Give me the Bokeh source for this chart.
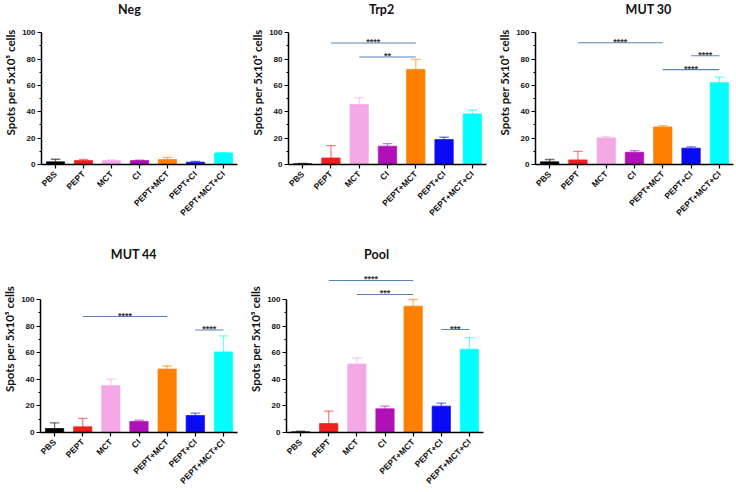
import math
from bokeh.plotting import figure
from bokeh.layouts import column, row
from bokeh.models import ColumnDataSource, Range1d, FactorRange, FixedTicker
from bokeh.transform import dodge
from bokeh.embed import file_html
from bokeh.resources import INLINE
from bokeh.core.properties import value

categories = ["PBS", "PEPT", "MCT", "CI", "PEPT+MCT", "PEPT+CI", "PEPT+MCT+CI"]
colors = ["#000000", "#f01e1e", "#f5a8e6", "#b010b8", "#ff8000", "#0a0af5", "#00ffff"]

neg_mean = [2.0, 3.0, 3.0, 3.0, 3.8, 1.8, 8.8]
neg_err = [4.0, 3.8, 3.5, 3.3, 5.3, 2.3, 9.1]
trp2_mean = [0.5, 5.0, 45.5, 13.9, 72.2, 18.9, 38.4]
trp2_err = [0.8, 14.4, 50.8, 15.9, 79.8, 20.7, 41.2]
mut30_mean = [2.0, 3.5, 20.2, 9.3, 28.5, 12.4, 62.1]
mut30_err = [3.8, 10.0, 21.2, 10.6, 29.5, 13.4, 66.4]
mut44_mean = [3.0, 4.3, 35.2, 8.3, 47.7, 12.8, 60.6]
mut44_err = [7.3, 10.6, 40.2, 9.3, 50.0, 14.6, 72.6]
pool_mean = [0.5, 6.8, 51.5, 17.8, 95.0, 19.8, 62.6]
pool_err = [1.0, 16.1, 56.0, 19.8, 100.0, 22.1, 71.4]

neg_sig = []
trp2_sig = [("PEPT", "PEPT+MCT", 92.2, "****"), ("MCT", "PEPT+MCT", 81.6, "**")]
mut30_sig = [("PEPT", "PEPT+MCT", 92.4, "****"), ("PEPT+CI", "PEPT+MCT+CI", 82.6, "****"),
             ("PEPT+MCT", "PEPT+MCT+CI", 72.0, "****")]
mut44_sig = [("PEPT", "PEPT+MCT", 87.2, "****"), ("PEPT+CI", "PEPT+MCT+CI", 77.1, "****")]
pool_sig = [("PEPT", "PEPT+MCT", 114.3, "****"), ("MCT", "PEPT+MCT", 103.8, "***"),
            ("PEPT+CI", "PEPT+MCT+CI", 77.4, "***")]

y_ticks = [0, 20, 40, 60, 80, 100]
y_minor = [10, 30, 50, 70, 90]
y_label = "Spots per 5x10\u2075 cells"

SIG_COLOR = "#5b83b8"


def make_panel(title, means, errs, sigs, width, height, left, right, bottom, ymax,
               title_dx, title_y):
    p = figure(width=width, height=height, x_range=FactorRange(factors=categories, range_padding=0),
               y_range=Range1d(0, ymax), output_backend="svg", toolbar_location=None,
               min_border_left=left, min_border_right=right, min_border_top=0,
               min_border_bottom=bottom, background_fill_color="white", border_fill_color="white")
    p.title.visible = False
    p.outline_line_color = None
    p.xgrid.visible = False
    p.ygrid.visible = False

    # panel title, drawn in the (extended) top area above the y axis
    ts = ColumnDataSource(dict(x=[categories[3]], y=[title_y], t=[title]))
    p.text(x=dodge("x", title_dx, range=p.x_range), y="y", text="t", source=ts,
           text_align="center", text_baseline="middle", text_font=value("Lato"),
           text_font_style="bold", text_font_size="12.5px", text_color="#111111")

    src = ColumnDataSource(dict(cat=categories, mean=means, err=errs, color=colors))
    p.segment(x0="cat", y0="mean", x1="cat", y1="err", source=src, line_color="color",
              line_alpha=0.55, line_width=1.3)
    p.segment(x0=dodge("cat", -0.17, range=p.x_range), y0="err",
              x1=dodge("cat", 0.17, range=p.x_range), y1="err", source=src,
              line_color="color", line_alpha=0.55, line_width=1.3)
    p.vbar(x="cat", top="mean", width=0.65, source=src, fill_color="color", line_color="color",
           line_alpha=0.7)

    for a, b, yv, lab in sigs:
        ia, ib = categories.index(a), categories.index(b)
        p.segment(x0=[a], y0=[yv], x1=[b], y1=[yv], line_color=SIG_COLOR, line_width=1.1)
        s = ColumnDataSource(dict(x=[a], y=[yv], t=[lab]))
        p.text(x=dodge("x", (ib - ia) / 2.0, range=p.x_range), y="y", text="t", source=s,
               text_align="center", text_baseline="alphabetic", y_offset=-1,
               text_font=value("Liberation Sans"), text_font_style="bold",
               text_font_size="9px", text_color="#333333")

    ya = p.yaxis[0]
    ya.ticker = FixedTicker(ticks=y_ticks, minor_ticks=y_minor)
    ya.bounds = (0, 100)
    ya.axis_label = y_label
    ya.axis_label_text_font = "Lato"
    ya.axis_label_text_font_style = "bold"
    ya.axis_label_text_font_size = "11.5px"
    ya.axis_label_text_color = "#111111"
    ya.axis_label_standoff = 2
    ya.major_label_text_font = "Liberation Sans"
    ya.major_label_text_font_style = "bold"
    ya.major_label_text_font_size = "8px"
    ya.major_label_text_color = "#111111"
    ya.major_label_standoff = 2
    ya.axis_line_width = 1.5
    ya.major_tick_in = 0
    ya.major_tick_out = 4
    ya.minor_tick_in = 0
    ya.minor_tick_out = 2
    ya.major_tick_line_width = 1.2

    xa = p.xaxis[0]
    xa.major_label_orientation = math.pi / 4
    xa.major_label_text_font = "Liberation Sans"
    xa.major_label_text_font_style = "bold"
    xa.major_label_text_font_size = "8.5px"
    xa.major_label_text_color = "#111111"
    xa.major_label_standoff = 4
    xa.axis_line_width = 1.5
    xa.major_tick_in = 0
    xa.major_tick_out = 4
    xa.major_tick_line_width = 1.2
    xa.minor_tick_line_color = None
    return p


R1_MAX, R1_TITLE = 124.5, 117.5
R2_MAX, R2_TITLE = 140.6, 133.5
p1 = make_panel("Neg", neg_mean, neg_err, neg_sig, 245, 245, 41, 8, 81, R1_MAX, -0.36, R1_TITLE)
p2 = make_panel("Trp2", trp2_mean, trp2_err, trp2_sig, 245, 245, 43, 4, 81, R1_MAX, -0.21, R1_TITLE)
p3 = make_panel("MUT 30", mut30_mean, mut30_err, mut30_sig, 246, 245, 45, 3, 81, R1_MAX, 0.5, R1_TITLE)
p4 = make_panel("MUT 44", mut44_mean, mut44_err, mut44_sig, 245, 247, 39, 8, 60, R2_MAX, -0.18, R2_TITLE)
p5 = make_panel("Pool", pool_mean, pool_err, pool_sig, 245, 247, 41, 7, 60, R2_MAX, -0.3, R2_TITLE)

layout = column(row(p1, p2, p3), row(p4, p5))
open("out.html", "w").write(file_html(layout, INLINE))
